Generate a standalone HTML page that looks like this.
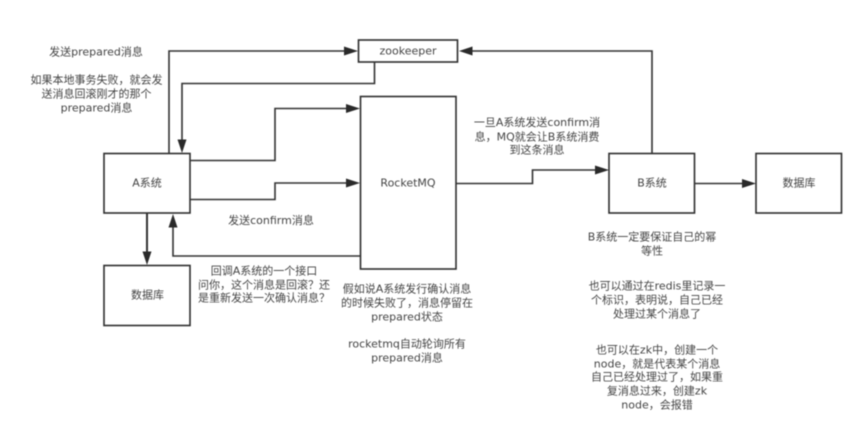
<!DOCTYPE html>
<html>
<head>
<meta charset="utf-8">
<style>
html,body{margin:0;padding:0;background:#fff;width:865px;height:427px;overflow:hidden}
svg{display:block;filter:blur(0.4px)}
text{font-family:"DejaVu Sans","Noto Sans CJK SC",sans-serif;font-size:11px;fill:#444;text-anchor:middle;dominant-baseline:central}
.b{fill:#fff;stroke:#2e2e2e;stroke-width:1.6}
.l{fill:none;stroke:#333;stroke-width:1.6}
.a{fill:#2a2a2a;stroke:none}
</style>
</head>
<body>
<svg width="865" height="427" viewBox="0 0 865 427" xmlns="http://www.w3.org/2000/svg">
<rect class="b" x="358.5" y="40" width="99" height="22"/>
<rect class="b" x="360.5" y="96.500" width="95.500" height="172.500"/>
<rect class="b" x="104" y="153.500" width="86" height="59.500"/>
<rect class="b" x="104" y="265.500" width="86" height="60"/>
<rect class="b" x="609" y="153.500" width="85.500" height="59.500"/>
<rect class="b" x="756" y="153.500" width="85.500" height="59.500"/>

<path class="l" d="M169 153V51H346"/>
<polygon class="a" points="358,51 344,46.500 344,55.500"/>
<path class="l" d="M374.500 62V83.500H182V142"/>
<polygon class="a" points="182,153 177.500,139.500 186.500,139.500"/>
<path class="l" d="M190 160.500H275V108.500H348"/>
<polygon class="a" points="360,108.500 346,104 346,113"/>
<path class="l" d="M190 199.500H275V183H348"/>
<polygon class="a" points="360,183 346,178.500 346,187.500"/>
<path class="l" d="M456 183.500H532.500V170H598"/>
<polygon class="a" points="609,170 595,165.500 595,174.500"/>
<path class="l" d="M652 153V51H470"/>
<polygon class="a" points="459,51 472.500,46.500 472.500,55.500"/>
<path class="l" d="M694 183.500H746"/>
<polygon class="a" points="756,183.500 742,179 742,188"/>
<path class="l" d="M147 213V254" style="stroke-width:2"/>
<polygon class="a" points="147,265 142.500,251.500 151.500,251.500"/>
<path class="l" d="M360 256H173V224"/>
<polygon class="a" points="173,214 168.500,227.500 177.500,227.500"/>

<text x="96" y="52">发送prepared消息</text>
<text x="96.500" y="80">如果本地事务失败，就会发</text>
<text x="96.500" y="94">送消息回滚刚才的那个</text>
<text x="96.500" y="108">prepared消息</text>
<text x="408" y="51">zookeeper</text>
<text x="408" y="183">RocketMQ</text>
<text x="147" y="183">A系统</text>
<text x="147.500" y="295">数据库</text>
<text x="271" y="220.500">发送confirm消息</text>
<text x="264" y="271">回调A系统的一个接口</text>
<text x="264" y="285">问你，这个消息是回滚？还</text>
<text x="264" y="298">是重新发送一次确认消息？</text>
<text x="407" y="289">假如说A系统发行确认消息</text>
<text x="407" y="303">的时候失败了，消息停留在</text>
<text x="407" y="317">prepared状态</text>
<text x="407" y="344">rocketmq自动轮询所有</text>
<text x="407" y="358">prepared消息</text>
<text x="537" y="122.500">一旦A系统发送confirm消</text>
<text x="537" y="137">息，MQ就会让B系统消费</text>
<text x="537" y="150">到这条消息</text>
<text x="652" y="183">B系统</text>
<text x="799" y="183">数据库</text>
<text x="652" y="237">B系统一定要保证自己的幂</text>
<text x="652" y="251">等性</text>
<text x="657" y="286">也可以通过在redis里记录一</text>
<text x="657" y="300">个标识，表明说，自己已经</text>
<text x="657" y="314">处理过某个消息了</text>
<text x="657" y="350">也可以在zk中，创建一个</text>
<text x="657" y="364">node，就是代表某个消息</text>
<text x="657" y="377">自己已经处理过了，如果重</text>
<text x="657" y="391">复消息过来，创建zk</text>
<text x="657" y="405">node，会报错</text>
</svg>
</body>
</html>
